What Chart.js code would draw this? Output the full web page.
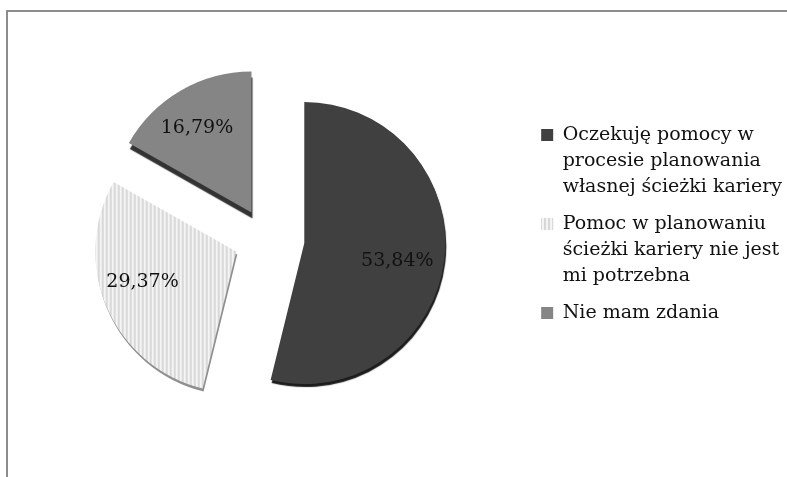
<!DOCTYPE html>
<html lang="pl">
<head>
<meta charset="utf-8">
<title>Pomoc w planowaniu ścieżki kariery</title>
<script src="https://cdn.jsdelivr.net/npm/chart.js@4"></script>
<style>
  html, body { margin: 0; padding: 0; background: #fff; overflow: hidden; }
  #wrap { position: relative; width: 787px; height: 477px; }
  #frame { position: absolute; left: 6px; top: 10px; right: 0; bottom: 0; border-top: 2px solid #8c8c8c; border-left: 2px solid #8c8c8c; }
  canvas { position: absolute; left: 0; top: 0; }
</style>
</head>
<body>
<div id="wrap">
  <div id="frame"></div>
  <canvas id="pie" width="787" height="477"></canvas>
</div>
<script>
const categories = [
  ['Oczekuję pomocy w', 'procesie planowania', 'własnej ścieżki kariery'],
  ['Pomoc w planowaniu', 'ścieżki kariery nie jest', 'mi potrzebna'],
  ['Nie mam zdania']
];
const shares = [53.84, 29.37, 16.79];
const shareLabels = ['53,84%', '29,37%', '16,79%'];

// how far each slice is pulled out of the pie, px
const explode = [38, 33, 30];
const edgeColors = ['#1c1c1c', '#8f8f8f', '#333333'];
const edgeDrop = [3, 3, 6];
const labelNudge = [[23, 10], [-29, 3], [-19, -24]];

function stripes() {
  const c = document.createElement('canvas');
  c.width = 4;
  c.height = 4;
  const g = c.getContext('2d');
  g.fillStyle = '#f4f4f4';
  g.fillRect(0, 0, 4, 4);
  g.fillStyle = '#d8d8d8';
  g.fillRect(0, 0, 2, 4);
  return g.createPattern(c, 'repeat');
}

// draws each arc pushed out along its middle angle, with a thick dark edge
const explodedSlices = {
  id: 'explodedSlices',
  afterLayout(chart) {
    // legend block sits a bit above the pie's centre
    chart.legend.top -= 11;
    chart.legend.bottom -= 11;
  },
  beforeDatasetDraw(chart) {
    const ctx = chart.ctx;
    chart.getDatasetMeta(0).data.forEach(function (arc, i) {
      const mid = (arc.startAngle + arc.endAngle) / 2;
      ctx.save();
      ctx.translate(Math.cos(mid) * explode[i], Math.sin(mid) * explode[i]);
      ctx.shadowColor = edgeColors[i];
      ctx.shadowBlur = 1;
      ctx.shadowOffsetX = 1;
      ctx.shadowOffsetY = edgeDrop[i];
      arc.draw(ctx);
      ctx.restore();
    });
    return false;
  },
  afterDatasetsDraw(chart) {
    const ctx = chart.ctx;
    ctx.save();
    ctx.font = '19px "DejaVu Serif"';
    ctx.fillStyle = '#111';
    ctx.textAlign = 'center';
    ctx.textBaseline = 'middle';
    chart.getDatasetMeta(0).data.forEach(function (arc, i) {
      const mid = (arc.startAngle + arc.endAngle) / 2;
      const p = arc.tooltipPosition();
      ctx.fillText(shareLabels[i],
        p.x + Math.cos(mid) * explode[i] + labelNudge[i][0],
        p.y + Math.sin(mid) * explode[i] + labelNudge[i][1]);
    });
    ctx.restore();
  }
};

new Chart(document.getElementById('pie'), {
  type: 'pie',
  data: {
    labels: categories,
    datasets: [{
      data: shares,
      backgroundColor: ['#404040', stripes(), '#858585'],
      borderWidth: 0
    }]
  },
  options: {
    responsive: false,
    animation: false,
    radius: 141,
    layout: { padding: { left: 3, right: -5 } },
    plugins: {
      tooltip: { enabled: false },
      legend: {
        position: 'right',
        labels: {
          boxWidth: 12,
          boxHeight: 12,
          padding: 11,
          color: '#111',
          font: { family: '"DejaVu Serif"', size: 19, lineHeight: 1.37 }
        }
      }
    }
  },
  plugins: [explodedSlices]
});
</script>
</body>
</html>
